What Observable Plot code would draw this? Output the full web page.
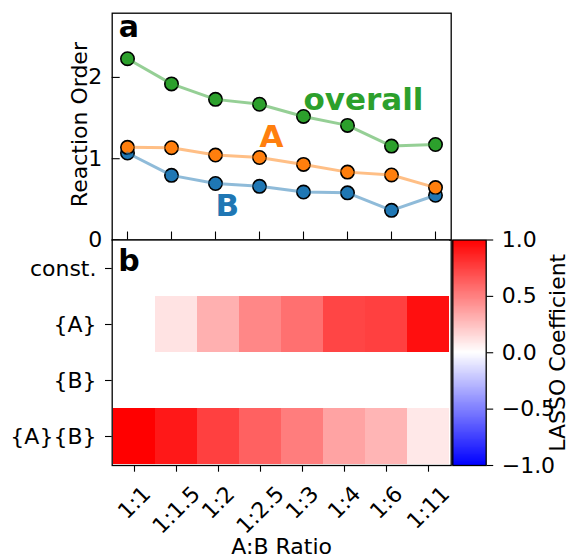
<!DOCTYPE html>
<html><head><meta charset="utf-8">
<script src="https://cdn.jsdelivr.net/npm/d3@7"></script>
<script src="https://cdn.jsdelivr.net/npm/@observablehq/plot@0.6"></script>
<style>
body{margin:0;background:#fff;}
#chart{position:relative;width:573px;height:558px;}
#chart svg{position:absolute;left:0;top:0;background:transparent;overflow:visible;}
</style></head><body><div id="chart"></div>
<script>
// ---- data ----
const ratios = ["1:1","1:1.5","1:2","1:2.5","1:3","1:4","1:6","1:11"];
const orderOverall = [2.23,1.92,1.73,1.67,1.52,1.41,1.155,1.175];
const orderA = [1.14,1.135,1.045,1.015,0.93,0.835,0.80,0.645];
const orderB = [1.07,0.795,0.695,0.66,0.59,0.58,0.365,0.55];
const terms = ["const.","{A}","{B}","{A}{B}"];
const coefConst = [0,0,0,0,0,0,0,0];
const coefA = [0,0.11,0.31,0.47,0.56,0.73,0.75,0.94];
const coefB = [0,0,0,0,0,0,0,0];
const coefAB = [1.0,0.905,0.75,0.62,0.51,0.36,0.29,0.09];
const yTicks = [0,1,2];
const cbTicks = [-1,-0.5,0,0.5,1];
const seriesNames = ["B","A","overall"];
const seriesLabelRatio = ["1:2","1:2.5","1:3"];
const seriesLabelValue = [0.30,1.14,1.6];

// ---- layout / style ----
const W = 573, H = 558;
const L = 111.7, R = 450.7, T1 = 12.7, B1 = 239.5, B2 = 465;
const cbL = 452.3, cbR = 485.7;
const FONT = "DejaVu Sans";
const FS = 22;
const colors = {overall:"#2ca02c", A:"#ff7f0e", B:"#1f77b4"};
const seriesValues = {overall: orderOverall, A: orderA, B: orderB};
const baseStyle = {fontFamily: FONT, fontSize: FS + "px", color: "black", background: "transparent", overflow: "visible"};
const colorScale = {type: "linear", domain: [-1, 1], interpolate: d3.piecewise(d3.interpolateRgb, ["#0000ff", "#ffffff", "#ff0000"])};

const chart = document.getElementById("chart");

// ---- panel a ----
const lineData = seriesNames.map(n => ratios.map((r, i) => ({ratio: r, value: seriesValues[n][i]})));
const marksA = [];
seriesNames.forEach((n, k) => {
  marksA.push(Plot.dot(lineData[k], {x: "ratio", y: "value", r: 6.7, fill: colors[n], stroke: "black", strokeWidth: 1.6}));
});
seriesNames.forEach((n, k) => {
  marksA.push(Plot.line(lineData[k], {x: "ratio", y: "value", stroke: colors[n], strokeOpacity: 0.5, strokeWidth: 3}));
});
seriesNames.forEach((n, k) => {
  marksA.push(Plot.text([n], {x: () => seriesLabelRatio[k], y: () => seriesLabelValue[k], text: d => d, fill: colors[n], fontWeight: "bold", fontSize: 31, textAnchor: "start", lineAnchor: "bottom"}));
});
const plotH1 = B1 - T1, plotW = R - L;
marksA.push(
  Plot.tickY(yTicks, {y: d => d, insetRight: plotW - 8, stroke: "black", strokeWidth: 1.1}),
  Plot.tickX(ratios, {x: d => d, insetTop: plotH1 - 8, stroke: "black", strokeWidth: 1.1}),
  Plot.axisY(yTicks, {tickSize: 0, tickPadding: 10, tickFormat: d3.format("d"), label: null, fontSize: FS}),
  Plot.text(["Reaction Order"], {frameAnchor: "left", rotate: -90, lineAnchor: "bottom", textAnchor: "middle", dx: -25.7, dy: -2, fontSize: FS}),
  Plot.text(["a"], {frameAnchor: "top-left", dx: 6.5, dy: 23.5, lineAnchor: "bottom", textAnchor: "start", fontWeight: "bold", fontSize: 30}),
  Plot.frame({stroke: "black", strokeWidth: 1.3})
);
const plotA = Plot.plot({
  width: W, height: H,
  marginLeft: L, marginRight: W - R, marginTop: T1, marginBottom: H - B1,
  style: baseStyle,
  x: {type: "point", domain: ratios, padding: 0.35, axis: null},
  y: {domain: [0, 2.79]},
  marks: marksA
});
chart.appendChild(plotA);

// ---- panel b ----
const coefRows = [coefConst, coefA, coefB, coefAB];
const cells = terms.flatMap((t, j) => coefRows[j].map((v, i) => ({term: t, ratio: ratios[i], value: v})));
const ctx = document.createElement("canvas").getContext("2d");
ctx.font = `${FS}px "${FONT}"`;
const lineH = 0.996 * FS;
const xLabelMarks = ratios.map(r => {
  const w = ctx.measureText(r).width;
  const off = 17 + (w + lineH) / (2 * Math.SQRT2);
  return Plot.text([r], {x: d => d, frameAnchor: "bottom", dy: off, rotate: -45, textAnchor: "middle", lineAnchor: "middle", fontSize: FS});
});
const plotB = Plot.plot({
  width: W, height: H,
  marginLeft: L, marginRight: W - R, marginTop: B1, marginBottom: H - B2,
  style: baseStyle,
  x: {type: "band", domain: ratios, padding: 0, axis: null},
  y: {type: "band", domain: terms, padding: 0, axis: null},
  color: colorScale,
  marks: [
    Plot.cell(cells, {x: "ratio", y: "term", fill: "value", inset: 0, shapeRendering: "crispEdges"}),
    Plot.axisY({tickSize: 6.7, tickPadding: 9, label: null, fontSize: FS, strokeWidth: 1.1}),
    Plot.axisX({tickSize: 6.7, tickFormat: () => "", label: null, strokeWidth: 1.1}),
    ...xLabelMarks,
    Plot.text(["A:B Ratio"], {frameAnchor: "bottom", dy: 88, lineAnchor: "bottom", textAnchor: "middle", fontSize: FS}),
    Plot.text(["b"], {frameAnchor: "top-left", dx: 6, dy: 30.5, lineAnchor: "bottom", textAnchor: "start", fontWeight: "bold", fontSize: 30}),
    Plot.frame({stroke: "black", strokeWidth: 1.3})
  ]
});
chart.appendChild(plotB);

// ---- colorbar ----
const cbStops = d3.range(256).map(i => ({y1: -1 + i * 2 / 256, y2: -1 + (i + 1) * 2 / 256}));
const plotC = Plot.plot({
  width: W, height: H,
  marginLeft: cbL, marginRight: W - cbR, marginTop: B1, marginBottom: H - B2,
  style: baseStyle,
  x: {domain: [0, 1], axis: null},
  y: {domain: [-1, 1], axis: null},
  color: colorScale,
  marks: [
    Plot.rect(cbStops, {y1: "y1", y2: "y2", fill: d => (d.y1 + d.y2) / 2, shapeRendering: "crispEdges"}),
    Plot.axisY(cbTicks, {anchor: "right", tickSize: 6.5, tickPadding: 9, tickFormat: d3.format(".1f"), label: null, fontSize: FS, strokeWidth: 1.1}),
    Plot.text(["LASSO Coefficient"], {frameAnchor: "right", rotate: -90, lineAnchor: "bottom", textAnchor: "middle", dx: 78.3, fontSize: FS}),
    Plot.frame({stroke: "black", strokeWidth: 1.3})
  ]
});
chart.appendChild(plotC);
</script></body></html>
